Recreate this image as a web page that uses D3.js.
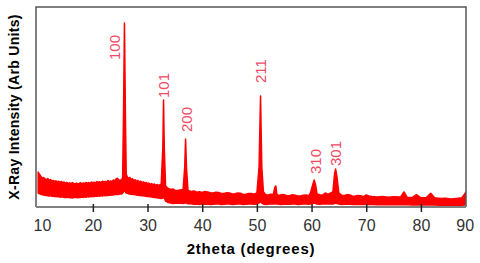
<!DOCTYPE html>
<html>
<head>
<meta charset="utf-8">
<script src="https://cdn.jsdelivr.net/npm/d3@7/dist/d3.min.js"></script>
<style>
  html, body { margin: 0; padding: 0; background: #fff; }
  svg { display: block; font-family: "Liberation Sans", Arial, sans-serif; }
</style>
</head>
<body>
<svg id="chart" width="480" height="263"></svg>
<script>
// 2theta positions (degrees) of the trace
var theta = [10.0, 10.25, 10.5, 10.75, 11.0, 11.25, 11.5, 11.75, 12.0, 12.25, 12.5, 12.75, 13.0, 13.25,
  13.5, 13.75, 14.0, 14.25, 14.5, 14.75, 15.0, 15.25, 15.5, 15.75, 16.0, 16.25, 16.5, 16.75, 17.0,
  17.25, 17.5, 17.75, 18.0, 18.25, 18.5, 18.75, 19.0, 19.25, 19.5, 19.75, 20.0, 20.25, 20.5, 20.75,
  21.0, 21.25, 21.5, 21.75, 22.0, 22.25, 22.5, 22.75, 23.0, 23.25, 23.5, 23.75, 24.0, 24.25, 24.5,
  24.75, 25.0, 25.25, 25.45, 25.6, 25.78, 25.96, 26.1, 26.3, 26.5, 26.75, 27.0, 27.25, 27.5, 27.75,
  28.0, 28.25, 28.5, 28.75, 29.0, 29.25, 29.5, 29.75, 30.0, 30.25, 30.5, 30.75, 31.0, 31.25, 31.5,
  31.75, 32.0, 32.25, 32.5, 32.8, 32.93, 33.06, 33.3, 33.8, 34.3, 34.7, 35.0, 35.5, 36.0, 36.5,
  36.8, 36.96, 37.12, 37.4, 38.0, 38.5, 39.0, 39.5, 40.0, 40.5, 41.0, 41.5, 42.0, 42.5, 43.0, 43.5,
  44.0, 44.5, 45.0, 45.5, 46.0, 46.5, 47.0, 47.5, 48.0, 48.5, 49.0, 49.5, 50.0, 50.4, 50.67, 50.9,
  51.2, 51.6, 52.0, 52.5, 53.0, 53.3, 53.47, 53.65, 54.0, 54.5, 55.0, 55.5, 56.0, 56.5, 57.0, 57.5,
  58.0, 58.5, 59.0, 59.5, 59.8, 60.2, 60.48, 60.75, 61.0, 61.5, 62.0, 62.5, 63.0, 63.5, 63.9, 64.2,
  64.4, 64.65, 65.0, 65.5, 66.0, 66.5, 67.0, 67.5, 68.0, 68.5, 69.0, 69.5, 70.0, 70.5, 71.0, 72.0,
  73.0, 74.0, 75.0, 76.3, 76.9, 77.5, 78.5, 79.2, 80.0, 81.0, 81.8, 82.5, 83.5, 84.5, 85.5, 86.5,
  87.5, 88.0, 88.25];
// upper edge of the noisy trace (arb units)
var upper = [350, 325, 305, 290, 295, 280, 272, 285, 268, 275, 260, 266, 255, 262,
  250, 258, 246, 255, 244, 250, 238, 246, 234, 242, 232, 244, 236, 230, 240,
  228, 236, 242, 232, 240, 234, 246, 238, 244, 236, 250, 242, 248, 240, 254,
  246, 252, 244, 258, 250, 256, 248, 264, 254, 260, 252, 270, 262, 280, 288,
  266, 270, 262, 300, 900, 1840, 900, 330, 300, 285, 296, 276, 282, 266, 272,
  258, 266, 250, 258, 244, 252, 240, 246, 232, 240, 226, 234, 222, 230, 218,
  224, 215, 222, 228, 600, 1070, 600, 210, 185, 175, 180, 168, 165, 170, 175,
  400, 680, 400, 165, 155, 160, 148, 152, 145, 155, 150, 142, 140, 148, 145, 136,
  135, 142, 140, 130, 132, 140, 138, 126, 128, 136, 135, 128, 140, 400, 1110, 400,
  150, 125, 118, 128, 125, 200, 210, 130, 115, 124, 122, 112, 112, 122, 118, 110,
  110, 118, 120, 112, 140, 220, 270, 220, 130, 122, 118, 140, 125, 140, 150, 330,
  380, 300, 140, 118, 115, 124, 120, 108, 110, 116, 112, 104, 120, 110, 104, 100,
  106, 98, 102, 100, 150, 95, 98, 125, 92, 95, 138, 92, 85, 88, 80, 86,
  92, 130, 150];
// lower edge of the noisy trace (arb units)
var lower = [140, 132, 128, 122, 120, 118, 115, 112, 110, 114, 108, 110, 104, 108,
  102, 105, 98, 102, 100, 96, 98, 94, 100, 92, 95, 90, 96, 94, 98,
  92, 98, 95, 100, 96, 102, 98, 104, 100, 106, 102, 108, 104, 110, 106,
  112, 108, 114, 110, 116, 112, 118, 114, 120, 118, 122, 120, 126, 124, 128,
  126, 132, 130, 140, 150, 170, 150, 140, 136, 132, 130, 128, 126, 124, 122,
  120, 118, 116, 114, 112, 112, 110, 106, 106, 104, 102, 100, 98, 96, 94,
  92, 90, 88, 85, 90, 100, 90, 60, 45, 40, 36, 38, 40, 38, 36,
  40, 40, 40, 32, 32, 28, 30, 26, 30, 28, 30, 26, 28, 30, 30, 26,
  28, 30, 30, 26, 28, 30, 30, 26, 28, 30, 30, 28, 30, 40, 50, 40,
  30, 26, 28, 30, 30, 30, 35, 30, 28, 26, 30, 28, 28, 30, 30, 26,
  28, 30, 30, 28, 30, 35, 40, 35, 30, 28, 30, 30, 30, 30, 30, 35,
  40, 35, 30, 26, 28, 30, 28, 24, 26, 28, 26, 24, 26, 24, 24, 22,
  22, 22, 22, 22, 25, 22, 20, 22, 20, 20, 22, 20, 18, 18, 18, 18,
  18, 20, 25];

// peak labels (Miller indices) and where their text starts
var peakLabels = ['100', '101', '200', '211', '310', '301'];
var labelTheta = [25.03, 33.9, 38.2, 51.74, 61.7, 65.45];
var labelIntensity = [1470, 1090, 750, 1240, 330, 410];

// x tick labels; the two end labels sit at the frame edges
var tickValues = [10.7, 20, 30, 40, 50, 60, 70, 80, 88.0];

var svg = d3.select('#chart');
var plotLeft = 36, plotRight = 466, plotTop = 7, plotBottom = 207;

var x = d3.scaleLinear().domain([9.6, 88.25]).range([plotLeft, plotRight]);
var y = d3.scaleLinear().domain([0, 2000]).range([plotBottom, plotTop]);

var data = theta.map(function (t, i) {
  return { t: t, hi: upper[i], lo: lower[i] };
});

svg.append('clipPath').attr('id', 'clip')
  .append('rect')
  .attr('x', plotLeft).attr('y', plotTop)
  .attr('width', plotRight - plotLeft).attr('height', plotBottom - plotTop);

var area = d3.area()
  .x(function (d) { return x(d.t); })
  .y0(function (d) { return y(d.lo); })
  .y1(function (d) { return y(d.hi); });

svg.append('path')
  .datum(data)
  .attr('clip-path', 'url(#clip)')
  .attr('d', area)
  .attr('fill', '#ff0000')
  .attr('stroke', '#ff0000')
  .attr('stroke-width', 1.5)
  .attr('stroke-linejoin', 'round');

// frame
svg.append('path')
  .attr('d', 'M' + plotLeft + ',' + plotBottom + 'V' + plotTop + 'H' + plotRight + 'V' + plotBottom)
  .attr('fill', 'none')
  .attr('stroke', '#555')
  .attr('stroke-width', 1.5);

svg.append('line')
  .attr('x1', plotLeft).attr('x2', plotRight)
  .attr('y1', plotBottom).attr('y2', plotBottom)
  .attr('stroke', '#808080')
  .attr('stroke-width', 2);

// x axis
var xAxis = d3.axisBottom(x)
  .tickValues(tickValues)
  .tickSize(5)
  .tickPadding(8)
  .tickFormat(function (d) { return Math.round(d / 10) * 10; });

var gx = svg.append('g')
  .attr('transform', 'translate(0,' + plotBottom + ')')
  .call(xAxis);
gx.select('.domain').remove();
gx.selectAll('.tick line')
  .attr('y1', -3)
  .attr('stroke', '#222')
  .attr('stroke-width', 1.5)
  .filter(function (d, i) { return i === 0 || i === tickValues.length - 1; })
  .remove();
gx.selectAll('.tick text')
  .attr('fill', '#333')
  .style('font-size', '16px')
  .style('font-family', '"Liberation Sans", Arial, sans-serif');

// peak labels
svg.selectAll('.peak')
  .data(peakLabels)
  .enter()
  .append('text')
  .attr('class', 'peak')
  .attr('transform', function (d, i) {
    return 'translate(' + x(labelTheta[i]) + ',' + y(labelIntensity[i]) + ') rotate(-90)';
  })
  .attr('fill', '#ee4a64')
  .style('font-size', '15px')
  .text(function (d) { return d; });

// axis titles
svg.append('text')
  .attr('transform', 'translate(19,' + (plotTop + plotBottom) / 2 + ') rotate(-90)')
  .attr('text-anchor', 'middle')
  .attr('fill', '#000')
  .style('font-size', '14px')
  .style('font-weight', 'bold')
  .style('letter-spacing', '0.3px')
  .text('X-Ray Intensity (Arb Units)');

svg.append('text')
  .attr('x', 251)
  .attr('y', 254)
  .attr('text-anchor', 'middle')
  .attr('fill', '#000')
  .style('font-size', '15px')
  .style('font-weight', 'bold')
  .style('letter-spacing', '0.8px')
  .text('2theta (degrees)');
</script>
</body>
</html>
